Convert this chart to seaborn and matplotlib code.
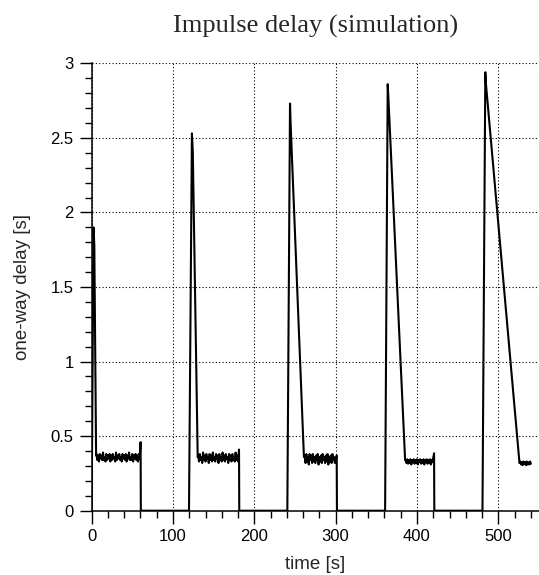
import numpy as np
import pandas as pd
import matplotlib
matplotlib.use("Agg")
import matplotlib.pyplot as plt
from matplotlib.ticker import MultipleLocator, FuncFormatter
import seaborn as sns

# ---------------- data ----------------
# knots of each impulse: rise start, peak, shoulder, end of drain
pulse_t = [
    [0.0, 2.3, 3.3, 5.5],
    [119.7, 123.3, 124.4, 130.4],
    [240.6, 243.9, 244.6, 261.0],
    [360.8, 364.0, 365.0, 385.4],
    [480.5, 484.0, 484.8, 526.0],
]
pulse_d = [
    [0.0, 1.90, 1.78, 0.37],
    [0.0, 2.53, 2.40, 0.36],
    [0.0, 2.73, 2.60, 0.36],
    [0.0, 2.86, 2.75, 0.34],
    [0.0, 2.94, 2.86, 0.32],
]

# steady-state plateau samples (1 s sampling) after each impulse
plateau_start = [6, 131, 262, 386, 527]
plateau_1 = [0.38, 0.34, 0.37, 0.33, 0.38, 0.35, 0.37, 0.34, 0.39, 0.34, 0.36, 0.33, 0.38, 0.34,
             0.37, 0.35, 0.38, 0.33, 0.37, 0.34, 0.38, 0.35, 0.36, 0.33, 0.39, 0.34, 0.37, 0.35,
             0.38, 0.34, 0.36, 0.33, 0.38, 0.35, 0.37, 0.34, 0.38, 0.33, 0.37, 0.35, 0.39, 0.34,
             0.36, 0.34, 0.38, 0.33, 0.37, 0.35, 0.38, 0.34, 0.37, 0.33, 0.38, 0.35]
plateau_2 = [0.37, 0.33, 0.38, 0.34, 0.36, 0.32, 0.39, 0.34, 0.37, 0.33, 0.38, 0.35, 0.36, 0.32,
             0.38, 0.34, 0.37, 0.33, 0.39, 0.34, 0.36, 0.33, 0.38, 0.35, 0.37, 0.32, 0.38, 0.34,
             0.36, 0.33, 0.39, 0.34, 0.37, 0.33, 0.38, 0.35, 0.36, 0.32, 0.38, 0.34, 0.37, 0.33,
             0.38, 0.34, 0.36, 0.33, 0.39, 0.34, 0.37, 0.33]
plateau_3 = [0.37, 0.32, 0.38, 0.33, 0.36, 0.31, 0.38, 0.34, 0.37, 0.32, 0.38, 0.33, 0.36, 0.32,
             0.37, 0.34, 0.38, 0.31, 0.36, 0.33, 0.37, 0.32, 0.38, 0.34, 0.36, 0.32, 0.37, 0.33,
             0.38, 0.31, 0.36, 0.33, 0.37, 0.32, 0.38, 0.34, 0.36, 0.32]
plateau_4 = [0.34, 0.32, 0.345, 0.315, 0.34, 0.32, 0.345, 0.31, 0.34, 0.325, 0.345, 0.315,
             0.34, 0.32, 0.345, 0.31, 0.34, 0.325, 0.345, 0.315, 0.34, 0.32, 0.345, 0.31,
             0.34, 0.325, 0.345, 0.315, 0.34, 0.32, 0.345, 0.31, 0.34, 0.325]
plateau_5 = [0.33, 0.31, 0.325, 0.305, 0.33, 0.315, 0.325, 0.305, 0.33, 0.31, 0.325, 0.31,
             0.33, 0.315]
plateaus = [plateau_1, plateau_2, plateau_3, plateau_4, plateau_5]

# last sample before the sender stops (small spike), then delay falls to 0
end_t = [60.2, 181.2, 301.3, 421.0]
end_d = [0.46, 0.41, 0.37, 0.385]
end_drop = [60.5, 181.5, 301.6, 421.3]

x_ticks = [0, 100, 200, 300, 400, 500]
y_ticks = [0, 0.5, 1, 1.5, 2, 2.5, 3]

# ---------------- build the series ----------------
times, delays = [], []
for i in range(len(pulse_t)):
    times += pulse_t[i]
    delays += pulse_d[i]
    pl = plateaus[i]
    times += list(plateau_start[i] + np.arange(len(pl)))
    delays += pl
    if i < len(end_t):
        times += [end_t[i], end_drop[i]]
        delays += [end_d[i], 0.0]
df = pd.DataFrame({"time": times, "delay": delays})

# ---------------- plot ----------------
sns.set_style("ticks")
plt.rcParams["font.family"] = ["Liberation Sans", "DejaVu Sans"]

fig = plt.figure(figsize=(5.39, 5.75), dpi=100)
ax = fig.add_axes([0.170, 0.1118, 0.830, 0.7781])

sns.lineplot(data=df, x="time", y="delay", estimator=None, sort=False,
             color="black", linewidth=1.5, ax=ax)

ax.set_xlim(0, 550)
ax.set_ylim(0, 3)
ax.set_xticks(x_ticks)
ax.set_yticks(y_ticks)
ax.xaxis.set_minor_locator(MultipleLocator(20))
ax.yaxis.set_minor_locator(MultipleLocator(0.1))
ax.yaxis.set_major_formatter(FuncFormatter(lambda v, p: f"{v:g}"))

ax.grid(True, which="major", linestyle=(0, (1, 2)), color="black", linewidth=0.8)
for s in ["top", "right"]:
    ax.spines[s].set_visible(False)
for s in ["left", "bottom"]:
    ax.spines[s].set_linewidth(1.1)
    ax.spines[s].set_color("black")

ax.tick_params(which="major", direction="out", length=9, width=1.0, labelsize=12,
               colors="black", pad=4)
ax.tick_params(which="minor", direction="out", length=5, width=1.0, colors="black")

ax.set_xlabel("time [s]", fontsize=13.5, labelpad=9)
ax.set_ylabel("one-way delay [s]", fontsize=13.5, labelpad=14)
ax.set_title("Impulse delay (simulation)", fontsize=19, pad=22,
             family=["Liberation Serif", "DejaVu Serif"])

fig.savefig("out.png", dpi=100)
